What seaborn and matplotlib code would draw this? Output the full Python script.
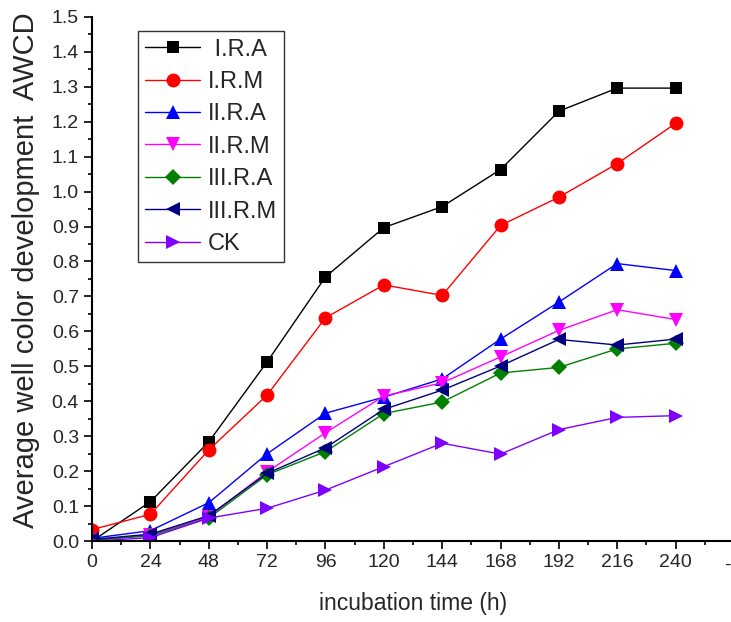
import pandas as pd
import seaborn as sns
import matplotlib.pyplot as plt
from matplotlib.ticker import MultipleLocator

# incubation times (h)
hours = [0, 24, 48, 72, 96, 120, 144, 168, 192, 216, 240]

# AWCD values
ira = [0.0, 0.113, 0.284, 0.513, 0.756, 0.897, 0.957, 1.063, 1.230, 1.296, 1.296]
irm = [0.033, 0.077, 0.261, 0.418, 0.639, 0.733, 0.703, 0.903, 0.984, 1.080, 1.195]
iira = [0.008, 0.030, 0.110, 0.250, 0.366, 0.412, 0.464, 0.578, 0.684, 0.794, 0.774]
iirm = [0.002, 0.018, 0.070, 0.198, 0.310, 0.415, 0.453, 0.527, 0.603, 0.662, 0.634]
iiira = [0.003, 0.015, 0.066, 0.190, 0.256, 0.365, 0.398, 0.481, 0.497, 0.550, 0.566]
iiirm = [0.005, 0.020, 0.073, 0.194, 0.267, 0.377, 0.432, 0.501, 0.577, 0.561, 0.578]
ck = [0.0, 0.010, 0.066, 0.094, 0.146, 0.213, 0.280, 0.249, 0.319, 0.354, 0.359]

names = [' I.R.A', 'I.R.M', 'II.R.A', 'II.R.M', 'III.R.A', 'III.R.M', 'CK']
series = [ira, irm, iira, iirm, iiira, iiirm, ck]

colors = ['black', '#ff0000', '#0000ff', '#ff00ff', '#008000', '#000080', '#8000ff']
markers = ['s', 'o', '^', 'v', 'D', '<', '>']
msizes = [8.5, 10, 10, 10, 8, 10, 10]

rows = []
for n, vals in zip(names, series):
    for h, v in zip(hours, vals):
        rows.append({'time': h, 'AWCD': v, 'group': n})
df = pd.DataFrame(rows)

sns.set_style('ticks')
plt.rcParams['font.family'] = ['Liberation Sans', 'DejaVu Sans']

fig = plt.figure(figsize=(7.31, 6.22), dpi=100)
ax = fig.add_axes([0.126, 0.130, 0.878, 0.843])

for n, c, m, ms in zip(names, colors, markers, msizes):
    sns.lineplot(data=df[df['group'] == n], x='time', y='AWCD', ax=ax,
                 color=c, marker=m, markersize=ms, markeredgewidth=0,
                 linewidth=1.0, label=n)

ax.set_xlim(0, 264)
ax.set_ylim(0, 1.5)
ax.set_xticks(hours)
ax.set_yticks([i / 10 for i in range(16)])
ax.set_yticklabels([f'{i / 10:.1f}' for i in range(16)])
ax.xaxis.set_minor_locator(MultipleLocator(12))
ax.yaxis.set_minor_locator(MultipleLocator(0.05))
ax.tick_params(which='major', direction='out', length=6, width=1.2,
               labelsize=14, color='black')
ax.tick_params(which='minor', direction='out', length=3, width=1.2,
               color='black')
for s in ['left', 'bottom']:
    ax.spines[s].set_linewidth(1.5)
    ax.spines[s].set_color('black')
sns.despine(ax=ax)
ax.text(261.5, -0.068, '-', ha='center', va='center', fontsize=14,
        transform=ax.transData, clip_on=False)

ax.set_xlabel('incubation time (h)', fontsize=16.5, labelpad=15)
ax.set_ylabel('Average well color development  AWCD', fontsize=21)
ax.yaxis.set_label_coords(-0.081, 0.517)

leg = ax.legend(loc='upper left', bbox_to_anchor=(0.072, 0.972), fontsize=17,
                frameon=True, fancybox=False, edgecolor='black',
                handlelength=2.3, handletextpad=0.35, labelspacing=0.44,
                borderpad=0.3, borderaxespad=0)
leg.get_frame().set_linewidth(1.0)

fig.savefig('out.png', dpi=100)
